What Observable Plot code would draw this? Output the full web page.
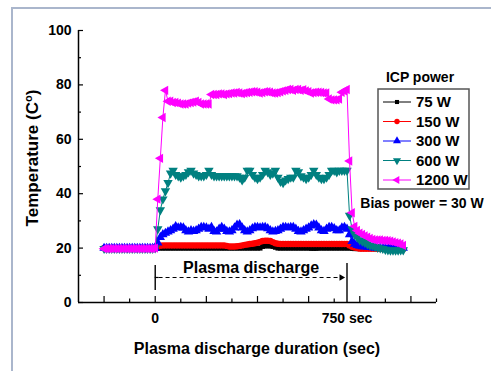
<!DOCTYPE html>
<html><head><meta charset="utf-8">
<script src="https://cdn.jsdelivr.net/npm/d3@7"></script>
<script src="https://cdn.jsdelivr.net/npm/@observablehq/plot@0.6"></script>
<style>
html,body{margin:0;padding:0;background:#fff;}
#wrap{position:relative;width:491px;height:371px;overflow:hidden;}
#chart{position:absolute;left:0;top:0;}
#frame{position:absolute;left:11px;top:7px;width:700px;height:700px;border-left:2px solid #aab6cc;border-top:2px solid #aab6cc;}
#err{position:absolute;left:20px;top:20px;color:red;font:12px sans-serif;}
</style></head><body>
<div id="wrap"><div id="chart"></div><div id="frame"></div><div id="err"></div></div>
<script>
// time (sec)
const time = [
-200,-190,-180,-170,-160,-150,-140,-130,-120,-110,
-100,-90,-80,-70,-60,-50,-40,-30,-20,-10,
0,10,20,30,40,50,60,70,80,90,
100,110,120,130,140,150,160,170,180,190,
200,210,220,230,240,250,260,270,280,290,
300,310,320,330,340,350,360,370,380,390,
400,410,420,430,440,450,460,470,480,490,
500,510,520,530,540,550,560,570,580,590,
600,610,620,630,640,650,660,670,680,690,
700,710,720,730,740,750,760,770,780,790,
800,810,820,830,840,850,860,870,880,890,
900,910,920,930,940,950,960,970];

const w75 = [
20,20,20,20,20,20,20,20,20,20,
20,20,20,20,20,20,20,20,20,20,
20,20,20,20,20,20,20,20,20,20,
20,20,20,20,20,20,20,20,20,20,
20,20,20,20,20,20,20,20,20,20,
20,20,20,20,20,20,20,20,20,20,
20,20,20.6,20.8,20.8,20.8,20.6,20.3,20,20,
20,20,20,20,20,20,20,20,20,20,
20,19.9,19.9,19.9,20,20,20,20,20,20,
20,20,20,20,20,20,20,19.9,19.8,19.8,
19.8,19.8,19.8,19.8,19.8,19.8,19.8,19.8,19.8,19.8,
19.8,19.8,19.8,19.8,19.8,19.8,19.8,19.8];

const w150 = [
20,20,20,20,20,20,20,20,20,20,
20,20,20,20,20,20,20,20,20,20,
20,20.6,20.9,21,21,21,21,21,21,21,
21,21,21,21,21,21,21,21,21,21,
21,21,21,21,21,21,21,21,20.8,20.6,
20.6,20.6,20.7,20.8,21,21.2,21.3,21.5,21.6,21.8,
22,22.3,22.6,22.7,22.7,22.6,22.2,21.8,21.6,21.5,
21.5,21.5,21.5,21.5,21.5,21.5,21.5,21.5,21.5,21.5,
21.5,21.5,21.5,21.5,21.5,21.5,21.5,21.5,21.5,21.5,
21.5,21.5,21.5,21.5,21.5,21.5,21,20.5,20.2,20,
19.8,19.8,19.8,19.8,19.8,19.8,19.8,19.8,19.8,19.8,
19.8,19.8,19.8,19.8,19.8,19.8,19.8,19.8];

const w300 = [
20,20,20,20,20,20,20,20,20,20,
20,20,20,20,20,20,20,20,20,20,
20,22,24,25,25.5,26,26.5,27,28,27.5,
27.7,27.5,26.5,26,26.5,26.2,26.5,27,27.7,27.7,
27.5,27,27.7,26.2,26,27,27.7,27,26.2,26,
26.5,27.5,28.5,28.7,27.5,26.5,26,26.5,27.2,27.7,
27.7,27.5,27.7,27.7,27.2,26.5,26,26.2,26.5,27,
27.7,27.7,27.5,27.7,27.7,27,26.2,26,26.5,27,
27.5,28.2,28.7,28.5,27.5,26.5,26.2,27,27.7,27.7,
27.2,26.5,26.5,27.5,27.7,27,25,22.5,21.5,21,
20.8,20.6,20.5,20.4,20.3,20.2,20,20,20,20,
20,20,20,20,20,20,20,20];

const w600 = [
19.8,19.8,19.8,19.8,19.8,19.8,19.8,19.8,19.8,19.8,
19.8,19.8,19.8,19.8,19.8,19.8,19.8,19.8,19.8,19.8,
20,27,34,38,41,44,47.5,48.5,47,46.5,
46,46.5,47,48,48.5,47.5,47,46.5,46.5,46.5,
47,48.5,47,46.5,46.5,46.5,46.5,46.5,46.5,46.5,
46.5,46.5,46.5,46,45,46,48.5,48.5,47,46,
45.5,46,47,48.5,48,47,47.5,48.5,46,44.5,
44,45,45.5,46,46,48.5,48,46.5,46,45.5,
46,47,48.5,47,46,45.5,45.5,46,47,48.5,
48.5,48,48.5,48.5,48.5,48.5,32,27,25,24,
23,22.5,22,21.5,21,20.8,20.5,20.2,20,19.8,
19.5,19.3,19.2,19.2,19.2,19.2,19.3,19.3];

const w1200 = [
19.8,19.8,19.8,19.8,19.8,19.8,19.8,19.8,19.8,19.8,
19.8,19.8,19.8,19.8,19.8,19.8,19.8,19.8,19.8,19.8,
20,38,53,68,78,74,74,73.5,73.5,73.3,
73,73,73,73.3,73.5,73.7,74,73.5,73,73,
73,73,76.5,76.5,76.5,76.7,76.7,76.5,76.7,76.8,
77,77,77.2,77,76.8,77,77.2,77.3,77.5,77.5,
77.3,77,77.2,77.5,77.5,77.3,77,77,77.2,77.5,
77.8,78,78.3,78.3,78,78.3,78.3,78,78.2,77.8,
77.5,77,77.2,77.3,77.3,77.2,77,77,74.8,74.5,
74.5,74.5,74.8,77.3,77.8,78.3,52,33,28,26.5,
25.5,25,24.5,24,23.5,23.2,23,23,23,22.8,
22.8,22.7,22.5,22.3,22,21.8,21.5,21];

const seriesNames = ["75 W", "150 W", "300 W", "600 W", "1200 W"];
const seriesValues = [w75, w150, w300, w600, w1200];
const seriesColors = ["#000000", "#ff0000", "#0000ff", "#008080", "#ff00ff"];

const xMajorTicks = [-200, 0, 200, 400, 600, 800, 1000];
const xMinorTicks = [-100, 100, 300, 500, 700, 900, 1100];
const xLabelTicks = [0, 750];
const xLabelText = ["0", "750 sec"];
const yMajorTicks = [0, 20, 40, 60, 80, 100];
const yMinorTicks = [10, 30, 50, 70, 90];

const discharge = {start: 0, end: 750, label: "Plasma discharge"};
const legendTitle = "ICP power";
const biasNote = "Bias power = 30 W";

// ---- symbols
const s3 = Math.sqrt(3);
const triUp = d3.symbolTriangle;
const triDown = {draw(c, size){ const y = -Math.sqrt(size/(s3*3)); c.moveTo(0,-y*2); c.lineTo(-s3*y, y); c.lineTo(s3*y, y); c.closePath(); }};
const triLeft = {draw(c, size){ const y = -Math.sqrt(size/(s3*3)); c.moveTo(y*2,0); c.lineTo(-y,-s3*y); c.lineTo(-y, s3*y); c.closePath(); }};
const triRight = {draw(c, size){ const y = -Math.sqrt(size/(s3*3)); c.moveTo(-y*2,0); c.lineTo(y, s3*y); c.lineTo(y,-s3*y); c.closePath(); }};
const seriesSymbols = [d3.symbolSquare, d3.symbolCircle, triUp, triDown, triLeft];
const seriesR = [2.8, 3.2, 3.5, 3.5, 3.5];

const errs = [];
seriesValues.forEach((v,i) => { if (v.length !== time.length) errs.push(seriesNames[i] + " len " + v.length + " vs " + time.length); });
document.getElementById("err").textContent = errs.join("; ");

const seriesMarks = [];
seriesNames.forEach((name, i) => {
  const rows = time.map((t, j) => ({t, v: seriesValues[i][j]}));
  seriesMarks.push(Plot.line(rows, {x: "t", y: "v", stroke: seriesColors[i], strokeWidth: 1}));
  seriesMarks.push(Plot.dot(rows, {x: "t", y: "v", fill: seriesColors[i], stroke: "none", symbol: seriesSymbols[i], r: seriesR[i]}));
});

const font = "Liberation Sans, Arial, Helvetica, sans-serif";
const W = 491, H = 371, mL = 78, mR = 55, mT = 30, mB = 69;
const fw = W - mL - mR, fh = H - mT - mB;

const svg = Plot.plot({
  width: W, height: H,
  marginLeft: mL, marginRight: mR, marginTop: mT, marginBottom: mB,
  style: {fontFamily: font, background: "white", color: "black"},
  x: {domain: [-300, 1100]},
  y: {domain: [0, 100]},
  marks: [
    // inside ticks
    Plot.ruleX(xMajorTicks, {x: d => d, insetTop: fh - 6, strokeWidth: 1.2}),
    Plot.ruleX(xMinorTicks, {x: d => d, insetTop: fh - 3.5, strokeWidth: 1.2}),
    Plot.ruleY(yMajorTicks, {y: d => d, insetRight: fw - 5, strokeWidth: 1.2}),
    Plot.ruleY(yMinorTicks, {y: d => d, insetRight: fw - 3, strokeWidth: 1.2}),
    Plot.axisX({ticks: xLabelTicks, tickSize: 0, tickPadding: 11, tickFormat: d => xLabelText[xLabelTicks.indexOf(d)], label: null, fontSize: 14, fontWeight: "bold"}),
    Plot.axisY({ticks: yMajorTicks, tickSize: 0, tickPadding: 7, label: null, fontSize: 14, fontWeight: "bold"}),
    Plot.ruleX([-300], {strokeWidth: 1.5}),
    Plot.ruleY([0], {strokeWidth: 1.5}),
    // plasma discharge annotation
    Plot.ruleX([discharge.start], {y1: 4.4, y2: 13.6, strokeWidth: 1.4}),
    Plot.ruleX([discharge.end], {y1: 0, y2: 14.3, strokeWidth: 1.4}),
    Plot.ruleY([9.2], {x1: discharge.start, x2: discharge.start + 15, strokeWidth: 1.2}),
    Plot.ruleY([9.2], {x1: discharge.start + 15, x2: discharge.end - 20, strokeWidth: 1.2, strokeDasharray: "4,3"}),
    Plot.dot([discharge.end - 22], {x: d => d, y: 9.2, symbol: triRight, r: 2.4, fill: "black"}),
    Plot.text([discharge.label], {x: (discharge.start + discharge.end) / 2, y: 12.8, text: d => d, fontSize: 16, fontWeight: "bold", fill: "black"}),
    ...seriesMarks
  ]
});
document.getElementById("chart").appendChild(svg);

const s = d3.select(svg);
// y axis title with superscript
const yt = s.append("text")
  .attr("transform", "translate(38,158) rotate(-90)")
  .attr("text-anchor", "middle")
  .attr("font-family", font).attr("font-weight", "bold").attr("font-size", 17).attr("fill", "black");
yt.append("tspan").text("Temperature (C");
yt.append("tspan").attr("font-size", 11).attr("dy", "-0.55em").text("o");
yt.append("tspan").attr("dy", "0.38em").text(")");

// x axis title
s.append("text").attr("x", 257).attr("y", 354).attr("text-anchor", "middle")
  .attr("font-family", font).attr("font-weight", "bold").attr("font-size", 16).attr("fill", "black")
  .text("Plasma discharge duration (sec)");

// legend
const lg = s.append("g").attr("font-family", font).attr("font-weight", "bold");
lg.append("text").attr("x", 420).attr("y", 82).attr("text-anchor", "middle").attr("font-size", 14).attr("fill","black").text(legendTitle);
lg.append("rect").attr("x", 378).attr("y", 89).attr("width", 91).attr("height", 100)
  .attr("fill", "white").attr("stroke", "#555").attr("stroke-width", 1.5);
seriesNames.forEach((name, i) => {
  const y = 102 + i * 19.5;
  lg.append("line").attr("x1", 383).attr("x2", 411).attr("y1", y).attr("y2", y).attr("stroke", seriesColors[i]).attr("stroke-width", 1);
  const r = seriesR[i] - 0.5;
  lg.append("path").attr("transform", `translate(397,${y})`)
    .attr("d", d3.symbol().type(seriesSymbols[i]).size(Math.PI * r * r)()).attr("fill", seriesColors[i]);
  lg.append("text").attr("x", 416).attr("y", y).attr("dy", "0.36em").attr("text-anchor", "start").attr("font-size", 15).attr("fill", "black").text(name);
});
lg.append("text").attr("x", 422).attr("y", 208).attr("text-anchor", "middle").attr("font-size", 14).attr("fill","black").text(biasNote);
</script>
</body></html>
